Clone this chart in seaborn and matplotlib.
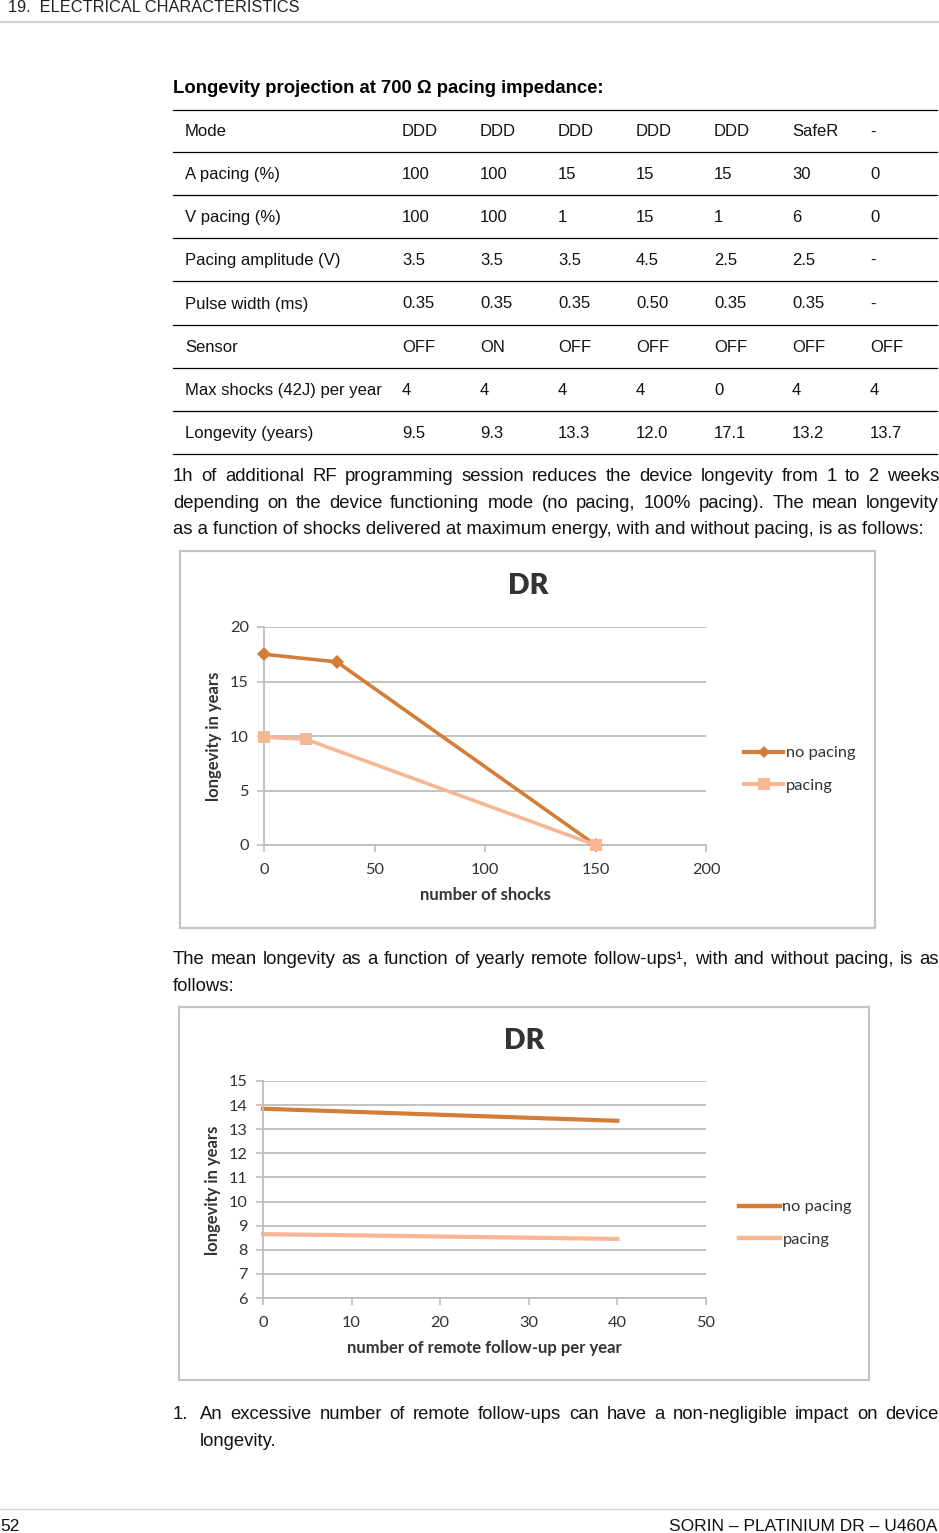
import numpy as np
import pandas as pd
import matplotlib
matplotlib.use('Agg')
import matplotlib.pyplot as plt
import seaborn as sns
from matplotlib.patches import Rectangle
from matplotlib.lines import Line2D

# ---------------- data ----------------
table_labels = ["Mode", "A pacing (%)", "V pacing (%)", "Pacing amplitude (V)",
                "Pulse width (ms)", "Sensor", "Max shocks (42J) per year", "Longevity (years)"]
mode_row = ["DDD", "DDD", "DDD", "DDD", "DDD", "SafeR", "-"]
a_pacing_row = ["100", "100", "15", "15", "15", "30", "0"]
v_pacing_row = ["100", "100", "1", "15", "1", "6", "0"]
amplitude_row = ["3.5", "3.5", "3.5", "4.5", "2.5", "2.5", "-"]
pulse_row = ["0.35", "0.35", "0.35", "0.50", "0.35", "0.35", "-"]
sensor_row = ["OFF", "ON", "OFF", "OFF", "OFF", "OFF", "OFF"]
shocks_row = ["4", "4", "4", "4", "0", "4", "4"]
longevity_row = ["9.5", "9.3", "13.3", "12.0", "17.1", "13.2", "13.7"]
table_rows = [mode_row, a_pacing_row, v_pacing_row, amplitude_row,
              pulse_row, sensor_row, shocks_row, longevity_row]

series_names = ["no pacing", "pacing"]
shocks_x_nopacing = [0, 33, 150]
shocks_y_nopacing = [17.5, 16.8, 0.0]
shocks_x_pacing = [0, 19, 150]
shocks_y_pacing = [9.9, 9.7, 0.0]
shocks_xticks = [0, 50, 100, 150, 200]
shocks_yticks = [0, 5, 10, 15, 20]

remote_x = [0, 40]
remote_y_nopacing = [13.85, 13.35]
remote_y_pacing = [8.65, 8.45]
remote_xticks = [0, 10, 20, 30, 40, 50]
remote_yticks = [6, 7, 8, 9, 10, 11, 12, 13, 14, 15]

colors = {"no pacing": "#d27d38", "pacing": "#f6b792"}

# ---------------- figure ----------------
W, H = 939, 1533
fig = plt.figure(figsize=(W / 100, H / 100), dpi=100)
fig.patch.set_facecolor("white")
renderer = fig.canvas.get_renderer()

PAGE_FONT = ["Liberation Sans", "DejaVu Sans"]
CHART_FONT = ["Lato", "DejaVu Sans"]
CHART_TXT = "#333333"


def fx(x):
    return x / W


def fy(y):
    return 1 - y / H


def text(x, y, s, **kw):
    kw.setdefault("family", PAGE_FONT)
    kw.setdefault("va", "baseline")
    return fig.text(fx(x), fy(y), s, **kw)


def hline(x0, x1, y, color="black", lw=0.8):
    fig.add_artist(Line2D([fx(x0), fx(x1)], [fy(y), fy(y)], color=color, lw=lw,
                          transform=fig.transFigure))


def justify(line, x0, x1, y, **kw):
    words = line.split()
    kw.setdefault("family", PAGE_FONT)
    texts = [fig.text(0, 0, w, va="baseline", **kw) for w in words]
    widths = [t.get_window_extent(renderer).width for t in texts]
    gap = (x1 - x0 - sum(widths)) / max(len(words) - 1, 1)
    x = x0
    for t, w in zip(texts, widths):
        t.set_position((fx(x), fy(y)))
        x += w + gap


# header
text(8, 12, "19.  ELECTRICAL CHARACTERISTICS", fontsize=11.8, color="#222222")
hline(0, 939, 22, color="#c8d0d8", lw=1.6)

# title
text(173, 93, "Longevity projection at 700 \u03a9 pacing impedance:", fontsize=13.3,
     fontweight="bold", color="black")

# table
row_lines = [110, 152, 195, 238, 281, 325, 368, 411, 454]
col_x = [402, 480, 558, 636, 714, 792, 870]
for y in row_lines:
    hline(173, 937, y, color="black", lw=0.9)
for i, (lab, row) in enumerate(zip(table_labels, table_rows)):
    yb = (row_lines[i] + row_lines[i + 1]) / 2 + 5.5
    text(185, yb, lab, fontsize=12, color="#111111")
    for x, v in zip(col_x, row):
        text(x, yb, v, fontsize=12, color="#111111")

# paragraph 1
P = dict(fontsize=13.3, color="#111111")
justify("1h of additional RF programming session reduces the device longevity from 1 to 2 weeks",
        173, 939, 481, **P)
justify("depending on the device functioning mode (no pacing, 100% pacing). The mean longevity",
        173, 939, 508, **P)
text(173, 534, "as a function of shocks delivered at maximum energy, with and without pacing, is as follows:", **P)

# paragraph 2
justify("The mean longevity as a function of yearly remote follow-ups\u00b9, with and without pacing, is as",
        173, 939, 964, **P)
text(173, 991, "follows:", **P)

# footnote
text(173, 1419, "1.", **P)
justify("An excessive number of remote follow-ups can have a non-negligible impact on device",
        200, 939, 1419, **P)
text(200, 1446, "longevity.", **P)

# footer
hline(0, 939, 1509, color="#d0d6dc", lw=1.0)
text(0, 1531, "52", fontsize=12.5, color="#111111")
text(937, 1531, "SORIN \u2013 PLATINIUM DR \u2013 U460A", fontsize=12.5, color="#111111", ha="right")


# ---------------- charts ----------------
def chart_frame(x0, y0, x1, y1):
    fig.add_artist(Rectangle((fx(x0), fy(y1)), (x1 - x0) / W, (y1 - y0) / H,
                             transform=fig.transFigure, facecolor="white",
                             edgecolor="#c4c4c4", lw=1.6, zorder=0))


def style_axes(ax, xlim, ylim, xticks, yticks):
    ax.set_facecolor("none")
    ax.set_xlim(*xlim)
    ax.set_ylim(*ylim)
    ax.set_xticks(xticks)
    ax.set_yticks(yticks)
    for s in ["top", "right"]:
        ax.spines[s].set_visible(False)
    for s in ["left", "bottom"]:
        ax.spines[s].set_color("#bdbdbd")
        ax.spines[s].set_linewidth(1.3)
    ax.yaxis.grid(True, color="#c2c2c2", lw=1.4)
    ax.xaxis.grid(False)
    ax.set_axisbelow(True)
    ax.tick_params(axis="both", colors="#bdbdbd", width=1.2, length=5, direction="out",
                   labelcolor=CHART_TXT, labelsize=11.8)
    ax.tick_params(axis="x", pad=8)
    ax.tick_params(axis="y", pad=6)
    for lab in ax.get_xticklabels() + ax.get_yticklabels():
        lab.set_family(CHART_FONT)


def legend(ax, handles, x, y, hl):
    leg = ax.legend(handles, series_names, loc="center left", bbox_to_anchor=(fx(x), fy(y)),
                    bbox_transform=fig.transFigure, frameon=False, handlelength=hl,
                    handletextpad=0.15, labelspacing=1.1, borderpad=0, borderaxespad=0,
                    prop={"family": CHART_FONT, "size": 11.8})
    for t in leg.get_texts():
        t.set_color(CHART_TXT)
    return leg


# chart 1: shocks
chart_frame(180, 551, 875, 928)
ax1 = fig.add_axes([fx(264), fy(845), (706 - 264) / W, (845 - 627) / H])
df1 = pd.DataFrame({
    "shocks": shocks_x_nopacing + shocks_x_pacing,
    "longevity": shocks_y_nopacing + shocks_y_pacing,
    "series": [series_names[0]] * len(shocks_x_nopacing) + [series_names[1]] * len(shocks_x_pacing),
})
sns.lineplot(data=df1, x="shocks", y="longevity", hue="series", style="series",
             markers={"no pacing": "D", "pacing": "s"}, dashes=False, palette=colors,
             linewidth=2.6, markersize=8, markeredgewidth=0, sort=False,
             estimator=None, ax=ax1, legend=False)
for ln in ax1.lines:
    ln.set_clip_on(False)
ax1.lines[0].set_markersize(7.5)
ax1.lines[1].set_markersize(9)
ax1.lines[0].set_zorder(3)
ax1.lines[1].set_zorder(4)
style_axes(ax1, (0, 200), (0, 20), shocks_xticks, shocks_yticks)
ax1.set_xlabel("number of shocks", family=CHART_FONT, fontweight="bold", fontsize=12, color=CHART_TXT)
ax1.set_ylabel("longevity in years", family=CHART_FONT, fontweight="bold", fontsize=12, color=CHART_TXT)
ax1.xaxis.set_label_coords(fx(485), fy(895), transform=fig.transFigure)
ax1.yaxis.set_label_coords(fx(214), fy(736), transform=fig.transFigure)
ax1.xaxis.label.set_va("center")
ax1.yaxis.label.set_va("center")
fig.text(fx(528), fy(586), "DR", family=CHART_FONT, fontweight="heavy", fontsize=20.5,
         color=CHART_TXT, ha="center", va="center")
h1 = [Line2D([], [], color=colors["no pacing"], lw=3, marker="D", markersize=6, markeredgewidth=0),
      Line2D([], [], color=colors["pacing"], lw=3, marker="s", markersize=8, markeredgewidth=0)]
legend(ax1, h1, 744, 769.5, 2.4)

# chart 2: remote follow-ups
chart_frame(179, 1007, 869, 1380)
ax2 = fig.add_axes([fx(263), fy(1298), (706 - 263) / W, (1298 - 1081) / H])
df2 = pd.DataFrame({
    "followups": remote_x + remote_x,
    "longevity": remote_y_nopacing + remote_y_pacing,
    "series": [series_names[0]] * len(remote_x) + [series_names[1]] * len(remote_x),
})
sns.lineplot(data=df2, x="followups", y="longevity", hue="series", palette=colors,
             linewidth=3, sort=False, estimator=None, ax=ax2, legend=False)
for ln in ax2.lines:
    ln.set_clip_on(False)
style_axes(ax2, (0, 50), (6, 15), remote_xticks, remote_yticks)
ax2.set_xlabel("number of remote follow-up per year", family=CHART_FONT, fontweight="bold",
               fontsize=12, color=CHART_TXT)
ax2.set_ylabel("longevity in years", family=CHART_FONT, fontweight="bold", fontsize=12, color=CHART_TXT)
ax2.xaxis.set_label_coords(fx(484), fy(1348), transform=fig.transFigure)
ax2.yaxis.set_label_coords(fx(213), fy(1190), transform=fig.transFigure)
ax2.xaxis.label.set_va("center")
ax2.yaxis.label.set_va("center")
fig.text(fx(524), fy(1041), "DR", family=CHART_FONT, fontweight="heavy", fontsize=20.5,
         color=CHART_TXT, ha="center", va="center")
h2 = [Line2D([], [], color=colors["no pacing"], lw=3.2),
      Line2D([], [], color=colors["pacing"], lw=3.2)]
legend(ax2, h2, 739, 1223.5, 2.5)

fig.savefig("out.png", dpi=100, facecolor="white")
